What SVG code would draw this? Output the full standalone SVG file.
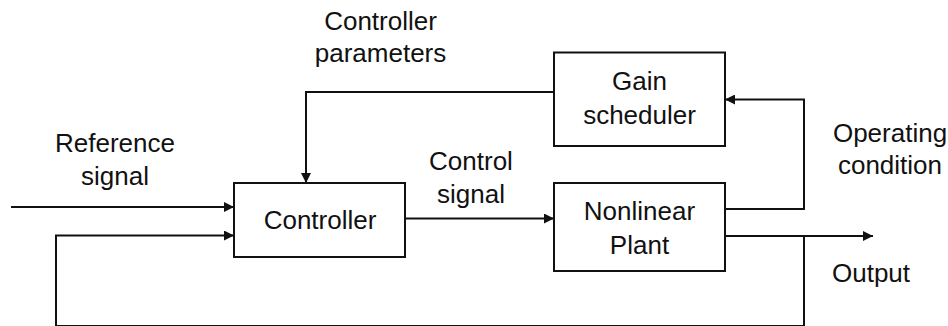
<svg xmlns="http://www.w3.org/2000/svg" width="948" height="326" viewBox="0 0 948 326">
  <style>
    .box { fill: #ffffff; stroke: #111111; stroke-width: 2; }
    .wire { fill: none; stroke: #111111; stroke-width: 2; }
    .lbl { font-family: "Liberation Sans", Arial, sans-serif; font-size: 26px; fill: #111111; text-anchor: middle; }
  </style>
  <defs>
    <marker id="arrow" viewBox="0 0 10 10" refX="10" refY="5" markerWidth="10" markerHeight="10" markerUnits="userSpaceOnUse" orient="auto">
      <path d="M0,0 L10,5 L0,10 Z" fill="#111111"/>
    </marker>
  </defs>
  <rect width="948" height="326" fill="#ffffff"/>

  <g id="connectors">
    <!-- reference input -->
    <line class="wire" x1="11" y1="207" x2="234" y2="207" marker-end="url(#arrow)"/>
    <!-- feedback from output back to controller -->
    <polyline class="wire" points="804,236 804,326 56,326 56,235.5 234,235.5" marker-end="url(#arrow)"/>
    <!-- controller parameters from gain scheduler -->
    <polyline class="wire" points="554,92 306,92 306,183" marker-end="url(#arrow)"/>
    <!-- control signal -->
    <line class="wire" x1="405" y1="218.5" x2="554" y2="218.5" marker-end="url(#arrow)"/>
    <!-- operating condition -->
    <polyline class="wire" points="725,209 804,209 804,99.5 725,99.5" marker-end="url(#arrow)"/>
    <!-- output -->
    <line class="wire" x1="725" y1="236" x2="873" y2="236" marker-end="url(#arrow)"/>
  </g>

  <g id="controller">
    <rect class="box" x="234" y="183" width="171" height="74"/>
    <text class="lbl" x="320" y="228.5">Controller</text>
  </g>

  <g id="gain-scheduler">
    <rect class="box" x="554" y="52.5" width="171" height="93.5"/>
    <text class="lbl" x="639.5" y="90">Gain</text>
    <text class="lbl" x="639.5" y="124">scheduler</text>
  </g>

  <g id="nonlinear-plant">
    <rect class="box" x="554" y="183" width="171" height="88"/>
    <text class="lbl" x="639.5" y="220">Nonlinear</text>
    <text class="lbl" x="639.5" y="253.5">Plant</text>
  </g>

  <g id="labels">
    <text class="lbl" x="380.5" y="30">Controller</text>
    <text class="lbl" x="380.5" y="61.7">parameters</text>
    <text class="lbl" x="115" y="151.7">Reference</text>
    <text class="lbl" x="115" y="185">signal</text>
    <text class="lbl" x="471" y="170">Control</text>
    <text class="lbl" x="471" y="203.3">signal</text>
    <text class="lbl" x="890" y="141.7">Operating</text>
    <text class="lbl" x="890" y="174">condition</text>
    <text class="lbl" x="871" y="281.7">Output</text>
  </g>
</svg>
